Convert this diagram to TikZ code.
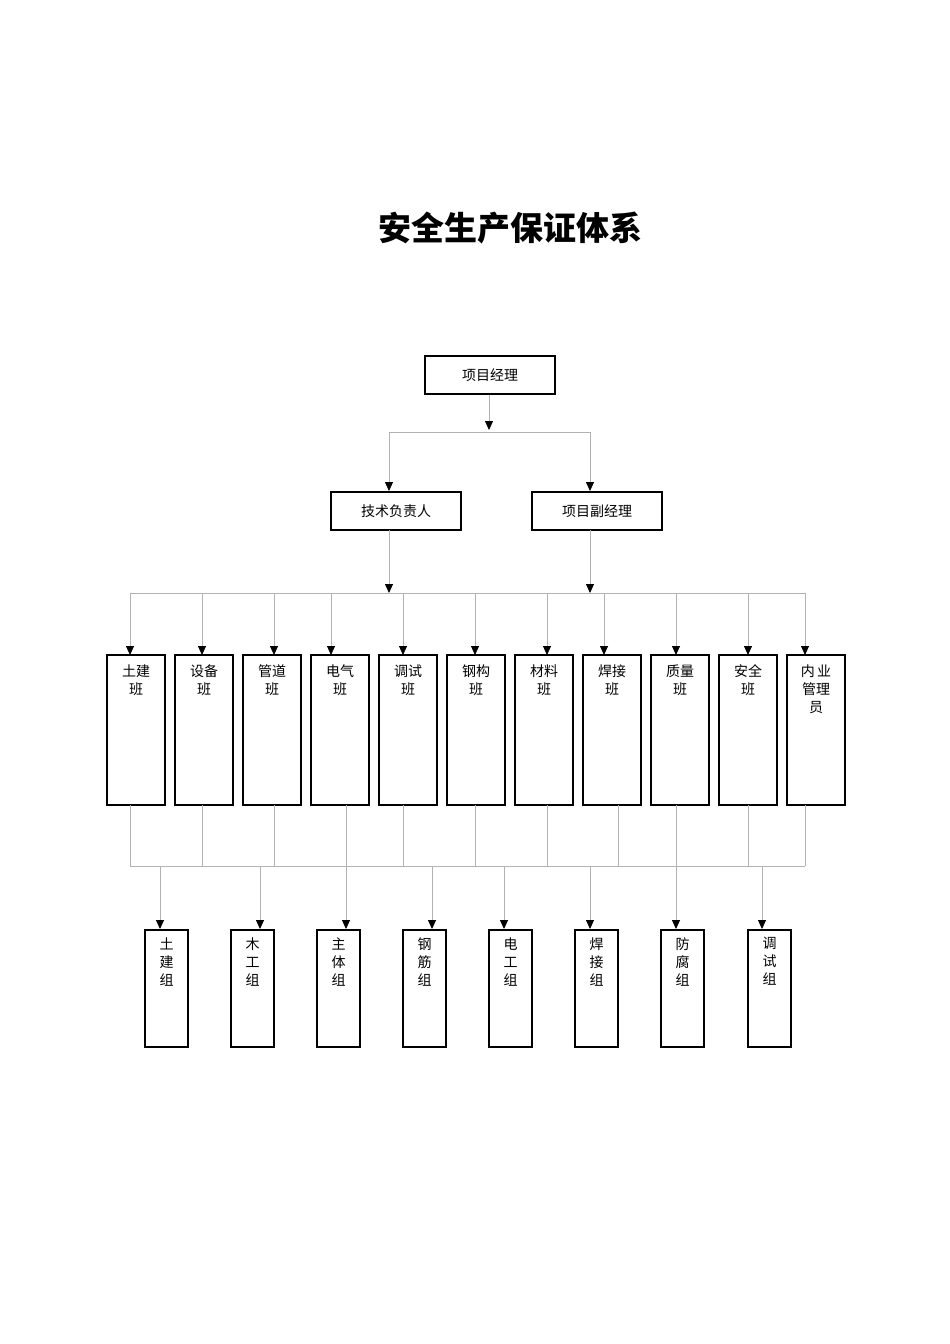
\documentclass[tikz,border=0pt]{standalone}
\usepackage{fontspec}
\setmainfont{Noto Sans CJK SC}
\usetikzlibrary{arrows.meta}
\begin{document}
\begin{tikzpicture}[x=1pt,y=-1pt,
  box/.style={draw=black,line width=2pt,minimum width=130pt,minimum height=38pt,inner sep=0pt,font=\fontsize{14pt}{16pt}\selectfont},
  tall/.style={draw=black,line width=2pt,minimum width=58pt,minimum height=150pt,inner sep=0pt},
  small/.style={draw=black,line width=2pt,minimum width=43pt,minimum height=117pt,inner sep=0pt},
  lbl/.style={font=\fontsize{14pt}{18pt}\selectfont,align=center,anchor=north},
  ln/.style={draw=black!30,line width=0.8pt},
  arr/.style={ln,-{Triangle[length=9pt,width=8pt,fill=black,color=black]}}]
\useasboundingbox (0,0) rectangle (950,1344);
\node[font=\fontsize{33pt}{36pt}\selectfont\bfseries] (title) at (510,228) {安全生产保证体系};
\node[box] (pm) at (490,375) {项目经理};
\node[box] (tech) at (396,511) {技术负责人};
\node[box] (vpm) at (597,511) {项目副经理};
\coordinate (b1) at (489,430);
\coordinate (b1l) at (389,432);
\coordinate (b1r) at (590,432);
\draw[arr] (pm.south -| b1) -- (b1);
\draw[ln] (b1l) -- (b1r);
\draw[arr] (b1l) -- (b1l |- tech.north);
\draw[arr] (b1r) -- (b1r |- vpm.north);
\coordinate (bl) at (130,593);
\coordinate (br) at (805,593);
\draw[ln] (bl) -- (br);
\draw[arr] (389,530) coordinate (t1) -- (389,593);
\draw[arr] (590,530) coordinate (t2) -- (590,593);
\coordinate (cl) at (130,866);
\coordinate (cr) at (805,866);
\draw[ln] (cl) -- (cr);
\foreach \i/\x/\ax/\dx/\t in {1/107/130/130/土建\\班,2/175/202/202/设备\\班,3/243/274/274/管道\\班,4/311/331/346/电气\\班,5/379/403/403/调试\\班,6/447/475/475/钢构\\班,7/515/547/547/材料\\班,8/583/604/618/焊接\\班,9/651/676/676/质量\\班,10/719/748/748/安全\\班,11/787/805/805/内\,业\\管理\\员}{
  \node[tall] (m\i) at (\x+29,730) {};
  \node[lbl] at (\x+29,661) {\t};
  \draw[arr] (\ax,593) -- (\ax,655);
  \draw[ln] (\dx,805) -- (\dx,866);
}
\foreach \i/\x/\ax/\t in {1/145/160/土\\建\\组,2/231/260/木\\工\\组,3/317/346/主\\体\\组,4/403/432/钢\\筋\\组,5/489/504/电\\工\\组,6/575/590/焊\\接\\组,7/661/676/防\\腐\\组,8/748/762/调\\试\\组}{
  \node[small] (s\i) at (\x+21.5,988) {};
  \node[lbl] at (\x+21.5,934) {\t};
  \draw[arr] (\ax,866) -- (\ax,929);
}
\end{tikzpicture}
\end{document}
